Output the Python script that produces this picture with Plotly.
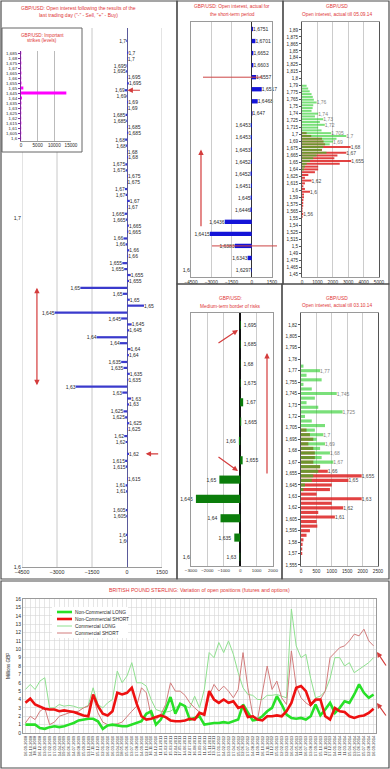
import plotly.graph_objects as go

W, H = 390, 769

# ---------------- DATA ----------------
# Left panel: open interest after the last trading day ("-" sell, "+" buy)
left_strikes = [1.700, 1.695, 1.690, 1.685, 1.680, 1.675, 1.670, 1.665, 1.660, 1.655, 1.650,
                1.645, 1.640, 1.635, 1.630, 1.625, 1.620, 1.615, 1.610, 1.605, 1.600]
left_labels = ["1,7", "1,695", "1,69", "1,685", "1,68", "1,675", "1,67", "1,665", "1,66", "1,655", "1,65",
               "1,645", "1,64", "1,635", "1,63", "1,625", "1,62", "1,615", "1,61", "1,605", "1,6"]
left_sell_a = [-30, -20, -90, -60, -80, -70, -90, -100, -150, -200, -2000,
               -3100, -1300, -250, -2200, -150, -120, -80, -60, -50, -40]
left_sell_b = [0, -40, -20, -30, -40, -50, -60, -50, -60, -120, -180,
               -250, -300, -150, -200, -80, -60, -50, -40, -30, -20]
left_buy_a = [60, 40, 50, 40, 30, 40, 120, 80, 100, 160, 120,
              200, 150, 120, 180, 100, 0, 0, 0, 0, 0]
left_buy_b = [30, 80, 30, 60, 50, 20, 40, 60, 50, 90, 730,
              100, 80, 60, 90, 40, 90, 40, 0, 0, 0]

# Inset: important strikes
imp_strikes = [1.685, 1.680, 1.675, 1.670, 1.665, 1.660, 1.655, 1.650, 1.645,
               1.640, 1.635, 1.630, 1.625, 1.620, 1.615, 1.610, 1.605, 1.600]
imp_values = [80, 60, 100, 60, 120, 80, 150, 700, 13600, 300, 120, 100, 80, 60, 100, 60, 80, 50]

# Middle top: short-term open interest
mt_labels = ["1,6751", "1,6701", "1,6652", "1,6603", "1,6557", "1,6517", "1,6468", "1,647",
             "1,6453", "1,6453", "1,6453", "1,6452", "1,6452", "1,6451", "1,645", "1,6446",
             "1,6436", "1,6415", "1,6383", "1,6343", "1,6297"]
mt_values = [100, 270, 120, 120, 320, 740, 440, 60, -60, -60, -70, -70, -90, -60, -80, -100,
             -2000, -3100, -1250, -300, -40]

# Top right: open interest till 05.09.14
tr_prices = [1.790, 1.785, 1.780, 1.775, 1.770, 1.765, 1.760, 1.755, 1.750, 1.745, 1.740, 1.735,
             1.730, 1.725, 1.720, 1.715, 1.710, 1.705, 1.700, 1.695, 1.690, 1.685, 1.680, 1.675,
             1.670, 1.665, 1.660, 1.655, 1.650, 1.645, 1.640, 1.635, 1.630, 1.625, 1.620, 1.615,
             1.610, 1.605, 1.600, 1.595, 1.590, 1.585, 1.580, 1.575, 1.570, 1.565, 1.560, 1.555]
tr_green = [300, 400, 500, 620, 700, 770, 950, 730, 690, 620, 1050, 840, 1380, 1160, 1480, 1050,
            1270, 1900, 2880, 2240, 2020, 1800, 1380, 1270, 1590, 950, 730, 520, 300, 190, 130,
            0, 0, 0, 0, 0, 0, 0, 0, 0, 0, 0, 0, 0, 0, 0, 0, 0]
tr_red = [0, 0, 0, 0, 0, 0, 0, 0, 0, 0, 0, 0, 0, 0, 0, 0, 0,
          300, 600, 1300, 1400, 1500, 3160, 1300, 2880, 2300, 2100, 3200, 2450, 1050, 1050, 840,
          410, 190, 620, 190, 90, 190, 520, 130, 130, 90, 80, 80, 40, 40, 80, 40]
tr_green_marks = [1.76, 1.74, 1.73, 1.72, 1.705, 1.70, 1.69]
tr_red_marks = [1.68, 1.67, 1.655, 1.62, 1.60, 1.56]
tr_tickvals = [1.89, 1.8775, 1.865, 1.8525, 1.84, 1.8275, 1.815, 1.8025, 1.79, 1.7775, 1.765, 1.7525,
               1.74, 1.7275, 1.715, 1.7025, 1.69, 1.6775, 1.665, 1.6525, 1.64, 1.6275, 1.615, 1.6025,
               1.59, 1.5775, 1.565, 1.5525, 1.54, 1.5275, 1.515, 1.5025, 1.49, 1.4775, 1.465, 1.4525]
tr_ticktext = ["1,89", "1,875", "1,865", "1,85", "1,84", "1,825", "1,815", "1,8", "1,79", "1,775",
               "1,765", "1,75", "1,74", "1,725", "1,715", "1,7", "1,69", "1,675", "1,665", "1,65",
               "1,64", "1,625", "1,615", "1,6", "1,59", "1,575", "1,565", "1,55", "1,54", "1,525",
               "1,515", "1,5", "1,49", "1,475", "1,465", "1,45"]

# Middle bottom: medium-term border of risks
mb_labels = ["1,695", "1,685", "1,68", "1,675", "1,67", "1,665", "1,66", "1,655", "1,65",
             "1,645", "1,64", "1,635", "1,63"]
mb_values = [40, 30, 20, 30, 180, 60, -80, 150, -1270, -2700, -1200, -360, -40]

# Bottom right: open interest till 03.10.14
br_prices = [1.775, 1.770, 1.765, 1.760, 1.755, 1.750, 1.745, 1.740, 1.735, 1.730, 1.725, 1.720,
             1.715, 1.710, 1.705, 1.700, 1.695, 1.690, 1.685, 1.680, 1.675, 1.670, 1.665, 1.660,
             1.655, 1.650, 1.645, 1.640, 1.635, 1.630, 1.625, 1.620, 1.615, 1.610, 1.605, 1.600,
             1.595, 1.590, 1.585, 1.580, 1.575, 1.570]
br_green = [80, 620, 180, 670, 80, 350, 1160, 450, 180, 560, 1350, 130, 350, 780, 450, 725, 510,
            780, 620, 940, 670, 1050, 620, 560, 400, 350, 130, 80,
            0, 0, 0, 0, 0, 0, 0, 0, 0, 0, 0, 0, 0, 0]
br_red = [0, 0, 0, 0, 0, 0, 0, 0, 0, 0, 0, 0, 0, 0,
          180, 290, 400, 240, 400, 450, 450, 400, 620, 870, 1970, 1540, 1000, 940, 510, 1970,
          1000, 1370, 560, 1100, 510, 530, 290, 180, 80, 50, 40, 40]
br_green_marks = [1.77, 1.745, 1.725, 1.70, 1.69, 1.68, 1.67]
br_red_marks = [1.66, 1.655, 1.65, 1.63, 1.62, 1.61]
br_tickvals = [1.82, 1.8075, 1.795, 1.7825, 1.77, 1.7575, 1.745, 1.7325, 1.72, 1.7075, 1.695,
               1.6825, 1.67, 1.6575, 1.645, 1.6325, 1.62, 1.6075, 1.595, 1.5825, 1.57, 1.5575]
br_ticktext = ["1,82", "1,805", "1,795", "1,78", "1,77", "1,755", "1,745", "1,73", "1,72", "1,705",
               "1,695", "1,68", "1,67", "1,655", "1,645", "1,63", "1,62", "1,605", "1,595", "1,58",
               "1,57", "1,555"]

# Bottom: British pound, open positions (millions GBP)
cot_dates = ["16.09.2008", "14.10.2008", "18.11.2008", "16.12.2008",
             "13.01.2009", "17.02.2009", "17.03.2009", "14.04.2009", "19.05.2009", "16.06.2009",
             "14.07.2009", "18.08.2009", "15.09.2009", "13.10.2009", "17.11.2009", "15.12.2009",
             "12.01.2010", "16.02.2010", "16.03.2010", "13.04.2010", "18.05.2010", "15.06.2010",
             "13.07.2010", "17.08.2010", "14.09.2010", "12.10.2010", "16.11.2010", "14.12.2010",
             "11.01.2011", "15.02.2011", "15.03.2011", "12.04.2011", "17.05.2011", "14.06.2011",
             "12.07.2011", "16.08.2011", "13.09.2011", "11.10.2011", "15.11.2011", "13.12.2011",
             "17.01.2012", "14.02.2012", "13.03.2012", "17.04.2012", "15.05.2012", "12.06.2012",
             "17.07.2012", "14.08.2012", "11.09.2012", "16.10.2012", "13.11.2012", "11.12.2012",
             "15.01.2013", "12.02.2013", "12.03.2013", "16.04.2013", "14.05.2013", "11.06.2013",
             "16.07.2013", "13.08.2013", "17.09.2013", "15.10.2013", "12.11.2013", "17.12.2013",
             "14.01.2014", "11.02.2014", "11.03.2014", "15.04.2014", "13.05.2014", "17.06.2014",
             "15.07.2014", "12.08.2014", "16.09.2014"]
nc_long = [1.0, 1.0, 1.0, 0.6, 0.5, 0.7, 0.8, 0.7, 0.8, 1.0, 1.2, 1.5, 1.6, 1.7,
           1.7, 1.4, 0.5, 0.9, 1.0, 0.9, 0.8, 0.8, 1.0, 1.2, 1.4, 2.3, 2.6, 1.0, 1.6, 2.8, 4.3,
           2.3, 3.5, 3.2, 1.6, 1.8, 2.0,
           1.0, 1.1, 1.2, 1.2, 1.3, 1.2, 1.4, 1.6, 3.4, 2.5, 1.5, 1.6, 2.0, 2.6, 3.0, 4.4, 3.4,
           2.2, 1.8, 1.7, 1.8, 1.6, 2.0, 3.4, 2.1, 2.8, 3.6, 2.4, 3.0, 3.8, 3.6, 4.6, 5.8, 4.8,
           4.2, 4.6]
nc_short = [3.6, 4.1, 3.4, 3.1, 2.9, 2.8, 2.8, 2.6, 2.7, 2.6, 2.5, 2.3, 2.1, 2.0, 4.6, 3.2, 2.3,
            2.1, 2.6, 4.8, 4.6, 4.8, 5.4, 3.5, 2.0, 1.6, 1.7, 1.9, 2.1, 1.9, 1.5, 1.4, 1.4, 1.5,
            1.7, 1.6, 2.4,
            2.2, 5.0, 4.0, 3.6, 4.0, 3.6, 3.8, 3.0, 3.2, 1.9, 2.0, 1.6, 1.5, 2.0, 2.0, 2.1, 2.0,
            2.6, 3.6, 5.4, 5.6, 5.0, 3.4, 4.0, 4.0, 2.0, 1.6, 3.0, 2.6, 2.5, 2.0, 1.8, 2.0, 2.1,
            2.4, 2.9]
c_long = [5.2, 5.8, 5.2, 6.2, 6.6, 3.0, 3.0, 3.4, 3.2, 3.3, 3.2, 3.0, 3.0, 3.3, 5.4, 3.4, 3.0,
          3.6, 4.0, 7.4, 6.0, 6.8, 8.4, 6.0, 6.0, 5.6, 4.0, 2.8, 2.6, 2.5, 2.6, 3.0, 3.4, 3.2,
          3.0, 4.4, 3.0,
          5.2, 9.6, 9.0, 10.8, 9.6, 11.0, 9.4, 7.2, 5.4, 4.6, 4.5, 4.0, 4.0, 4.5, 4.5, 4.6, 4.4,
          4.2, 14.8, 10.4, 9.0, 9.4, 6.5, 4.2, 4.4, 5.0, 6.5, 9.0, 9.0, 8.0, 8.4, 7.2, 7.6, 8.0,
          8.4, 9.0]
c_short = [1.2, 2.0, 1.6, 2.6, 3.0, 1.0, 1.3, 2.0, 2.2, 2.4, 2.5, 2.6, 3.0, 3.2, 4.4, 2.4, 1.3,
           1.0, 1.0, 1.1, 1.3, 2.0, 2.6, 3.2, 5.4, 4.8, 2.0, 1.6, 2.2, 3.4, 6.0, 5.0, 5.0, 4.5,
           3.6, 3.0, 2.5,
           2.0, 4.4, 5.8, 5.0, 5.6, 5.0, 4.2, 5.2, 9.6, 5.4, 2.2, 1.6, 4.6, 8.0, 5.2, 6.2, 4.2,
           3.4, 9.8, 5.6, 4.2, 3.6, 3.2, 3.8, 4.0, 5.0, 9.0, 9.6, 10.2, 10.4, 11.0, 11.8, 11.6,
           12.4, 11.0, 10.4]
series_names = ["Non-Commercial LONG", "Non-Commercial SHORT", "Commercial LONG", "Commercial SHORT"]

# ---------------- HELPERS ----------------
def px(x):
    return x / W


def py(y):
    return 1 - y / H


def fmt(p):
    return f"{p:g}".replace(".", ",")


def marked(prices, vals, marks):
    return [fmt(p) if (v and any(abs(p - m) < 1e-9 for m in marks)) else "" for p, v in zip(prices, vals)]


FONT = "Liberation Sans, Arial, sans-serif"
TXT = "#2a2a2a"
RED_T = "#e03535"
ARROW = "#d43c3c"
GRID = "#cccccc"

fig = go.Figure()

# ---- left main panel bars ----
for vals, centre in zip([left_sell_a, left_sell_b, left_buy_a, left_buy_b],
                        [0.0018, 0.0006, -0.0006, -0.0018]):
    fig.add_trace(go.Bar(
        x=vals, y=left_strikes, orientation="h", xaxis="x", yaxis="y",
        width=0.00045, offset=centre - 0.000225,
        marker=dict(color="#3a3acc", line=dict(width=0)),
        text=[lab if v != 0 else "" for lab, v in zip(left_labels, vals)],
        textposition="outside", constraintext="none", cliponaxis=False,
        textfont=dict(size=5, color=TXT, family=FONT), showlegend=False, hoverinfo="skip"))
fig.add_trace(go.Scatter(x=[None], y=[None], xaxis="x", yaxis="y2", showlegend=False, hoverinfo="skip"))

# ---- inset ----
fig.add_trace(go.Bar(x=imp_values, y=imp_strikes, orientation="h", xaxis="x2", yaxis="y3",
                     width=0.0028, marker=dict(color="#ff00ff", line=dict(width=0)),
                     showlegend=False, hoverinfo="skip"))

# ---- middle top ----
fig.add_trace(go.Bar(x=mt_values, y=list(range(len(mt_values))), orientation="h",
                     xaxis="x3", yaxis="y4", width=0.36,
                     marker=dict(color="#1414d8", line=dict(width=0)),
                     text=mt_labels, textposition="outside", constraintext="none", cliponaxis=False,
                     textfont=dict(size=5, color=TXT, family=FONT), showlegend=False, hoverinfo="skip"))
fig.add_trace(go.Scatter(x=[None], y=[None], xaxis="x3", yaxis="y5", showlegend=False, hoverinfo="skip"))

# ---- top right ----
fig.add_trace(go.Bar(x=tr_red, y=tr_prices, orientation="h", xaxis="x4", yaxis="y6", width=0.0036,
                     marker=dict(color="#dd2222", line=dict(width=0)), opacity=0.85,
                     text=marked(tr_prices, tr_red, tr_red_marks), textposition="outside",
                     constraintext="none", cliponaxis=False,
                     textfont=dict(size=5, color=TXT, family=FONT), showlegend=False, hoverinfo="skip"))
fig.add_trace(go.Bar(x=tr_green, y=tr_prices, orientation="h", xaxis="x4", yaxis="y6", width=0.0036,
                     marker=dict(color="#22cc22", line=dict(width=0)), opacity=0.6,
                     text=marked(tr_prices, tr_green, tr_green_marks), textposition="outside",
                     constraintext="none", cliponaxis=False,
                     textfont=dict(size=5, color=TXT, family=FONT), showlegend=False, hoverinfo="skip"))

# ---- middle bottom ----
fig.add_trace(go.Bar(x=mb_values, y=list(range(len(mb_values))), orientation="h",
                     xaxis="x5", yaxis="y7", width=0.42,
                     marker=dict(color="#0b7d0b", line=dict(width=0)),
                     text=mb_labels, textposition="outside", constraintext="none", cliponaxis=False,
                     textfont=dict(size=5, color=TXT, family=FONT), showlegend=False, hoverinfo="skip"))
fig.add_trace(go.Scatter(x=[None], y=[None], xaxis="x5", yaxis="y8", showlegend=False, hoverinfo="skip"))

# ---- bottom right ----
fig.add_trace(go.Bar(x=br_red, y=br_prices, orientation="h", xaxis="x6", yaxis="y9", width=0.0034,
                     marker=dict(color="#dd2222", line=dict(width=0)), opacity=0.85,
                     text=marked(br_prices, br_red, br_red_marks), textposition="outside",
                     constraintext="none", cliponaxis=False,
                     textfont=dict(size=5, color=TXT, family=FONT), showlegend=False, hoverinfo="skip"))
fig.add_trace(go.Bar(x=br_green, y=br_prices, orientation="h", xaxis="x6", yaxis="y9", width=0.0034,
                     marker=dict(color="#22cc22", line=dict(width=0)), opacity=0.6,
                     text=marked(br_prices, br_green, br_green_marks), textposition="outside",
                     constraintext="none", cliponaxis=False,
                     textfont=dict(size=5, color=TXT, family=FONT), showlegend=False, hoverinfo="skip"))

# ---- bottom time series ----
line_styles = {
    "Commercial LONG": ("#8fe08f", 1.0),
    "Commercial SHORT": ("#d27c7c", 1.0),
    "Non-Commercial LONG": ("#28e028", 2.6),
    "Non-Commercial SHORT": ("#ee1111", 2.6),
}
series_vals = {"Non-Commercial LONG": nc_long, "Non-Commercial SHORT": nc_short,
               "Commercial LONG": c_long, "Commercial SHORT": c_short}
for name in ["Commercial LONG", "Commercial SHORT", "Non-Commercial LONG", "Non-Commercial SHORT"]:
    col, w = line_styles[name]
    fig.add_trace(go.Scatter(x=cot_dates, y=series_vals[name], mode="lines", name=name,
                             xaxis="x7", yaxis="y10", line=dict(color=col, width=w),
                             showlegend=False, hoverinfo="skip"))

# ---------------- AXES ----------------
tf = dict(size=5.3, color=TXT, family=FONT)
tfs = dict(size=4.7, color=TXT, family=FONT)
lay = dict(
    xaxis=dict(domain=[px(22), px(162)], range=[-4500, 1500], tick0=0, dtick=1500, anchor="y",
               showgrid=False, zeroline=True, zerolinecolor="#5a5a9a", zerolinewidth=1,
               showline=True, linecolor="#9a9a9a", ticks="", tickangle=0, tickfont=tf),
    yaxis=dict(domain=[py(567), py(28)], range=[1.5953, 1.7044], anchor="x", visible=False),
    yaxis2=dict(overlaying="y", anchor="x", range=[1.6, 1.7545], tick0=1.6, dtick=0.1, side="left",
                showgrid=False, zeroline=False, showline=False, ticks="", tickfont=tf),
    xaxis2=dict(domain=[px(21), px(71)], range=[0, 15000], dtick=5000, tickformat="d", anchor="y3",
                showgrid=True, gridcolor="#bbbbbb", zeroline=False, showline=True, linecolor="#9a9a9a",
                ticks="", tickangle=0, tickfont=dict(size=4.6, color=TXT, family=FONT)),
    yaxis3=dict(domain=[py(140.5), py(50.5)], range=[1.5975, 1.6875], tick0=1.6, dtick=0.005,
                anchor="x2", showgrid=False, zeroline=False, showline=True, linecolor="#7a2a9a",
                linewidth=1.5, ticks="outside", ticklen=1.5, tickcolor="#7a2a9a",
                tickfont=dict(size=4.4, color=TXT, family=FONT)),
    xaxis3=dict(domain=[px(191), px(272)], range=[-4500, 1500], tick0=0, dtick=1500, anchor="y4",
                showgrid=True, gridcolor=GRID, zeroline=True, zerolinecolor="#333333",
                showline=True, mirror=True, linecolor="#9a9a9a", ticks="", tickangle=0, tickfont=tfs),
    yaxis4=dict(domain=[py(277), py(22)], range=[20.58, -0.58], anchor="x3", showticklabels=False,
                showgrid=False, zeroline=False, showline=True, mirror=True, linecolor="#9a9a9a", ticks=""),
    yaxis5=dict(overlaying="y4", anchor="x3", range=[1.5975, 1.6975], tick0=1.6, dtick=0.1,
                side="left", showgrid=False, zeroline=False, showline=False, ticks="", tickfont=tf),
    xaxis4=dict(domain=[px(302), px(379)], range=[0, 5000], dtick=1000, anchor="y6",
                showgrid=True, gridcolor=GRID, zeroline=False, showline=True, mirror=True,
                linecolor="#9a9a9a", ticks="", tickangle=0, tickfont=tfs),
    yaxis6=dict(domain=[py(277), py(22)], range=[1.4471, 1.9043], anchor="x4", tickmode="array",
                tickvals=tr_tickvals, ticktext=tr_ticktext, showgrid=False, zeroline=False,
                showline=True, mirror=True, linecolor="#555555", ticks="outside", ticklen=2,
                tickcolor="#555555", tickfont=dict(size=4.6, color=TXT, family=FONT)),
    xaxis5=dict(domain=[px(191), px(273)], range=[-3000, 2000], dtick=1000, anchor="y7",
                showgrid=True, gridcolor=GRID, zeroline=True, zerolinecolor="#111111", zerolinewidth=1.5,
                showline=True, mirror=True, linecolor="#9a9a9a", ticks="", tickangle=0,
                tickfont=dict(size=4.4, color=TXT, family=FONT)),
    yaxis7=dict(domain=[py(566), py(313)], range=[12.47, -0.62], anchor="x5", showticklabels=False,
                showgrid=False, zeroline=False, showline=True, mirror=True, linecolor="#9a9a9a", ticks=""),
    yaxis8=dict(overlaying="y7", anchor="x5", range=[1.5965, 1.6975], tick0=1.6, dtick=0.1,
                side="left", showgrid=False, zeroline=False, showline=False, ticks="", tickfont=tf),
    xaxis6=dict(domain=[px(301), px(378)], range=[0, 2500], dtick=500, anchor="y9",
                showgrid=True, gridcolor=GRID, zeroline=False, showline=True, mirror=True,
                linecolor="#9a9a9a", ticks="", tickangle=0, tickfont=tfs),
    yaxis9=dict(domain=[py(566), py(313)], range=[1.5564, 1.8331], anchor="x6", tickmode="array",
                tickvals=br_tickvals, ticktext=br_ticktext, showgrid=False, zeroline=False,
                showline=True, mirror=True, linecolor="#555555", ticks="outside", ticklen=2,
                tickcolor="#555555", tickfont=dict(size=4.6, color=TXT, family=FONT)),
    xaxis7=dict(domain=[px(23), px(376)], type="category", range=[-0.5, len(cot_dates) - 0.5],
                anchor="y10", tickmode="array", tickvals=cot_dates, ticktext=cot_dates, tickangle=-90,
                showgrid=True, gridcolor="#d6d6d6", gridwidth=0.6, zeroline=False, showline=True,
                mirror=True, linecolor="#9a9a9a", ticks="",
                tickfont=dict(size=4.1, color=TXT, family=FONT)),
    yaxis10=dict(domain=[py(733), py(599)], range=[0, 16], dtick=1, anchor="x7", showgrid=True,
                 gridcolor="#d6d6d6", gridwidth=0.6, zeroline=False, showline=True, mirror=True,
                 linecolor="#9a9a9a", ticks="", tickfont=dict(size=5, color=TXT, family=FONT)),
)

# ---------------- SHAPES ----------------
shapes = []
# left main gridlines (cut where the inset sits)
for gx, top in [(-4500, 152), (-3000, 152), (-1500, 28), (1500, 28)]:
    shapes.append(dict(type="line", xref="x", yref="paper", x0=gx, x1=gx, y0=py(567), y1=py(top),
                       line=dict(color="#c8c8c8", width=1), layer="below"))
# inset box
shapes.append(dict(type="rect", xref="paper", yref="paper", x0=px(2), x1=px(82), y0=py(152), y1=py(28),
                   fillcolor="white", line=dict(color="#666666", width=1), layer="below"))
# panel frames
for (x0, y0, x1, y1) in [(1, 1, 177, 579), (177, 1, 283, 284), (283, 1, 389, 284),
                         (177, 284, 282, 579), (282, 284, 389, 579), (1, 581, 389, 768)]:
    shapes.append(dict(type="rect", xref="paper", yref="paper", x0=px(x0), x1=px(x1), y0=py(y1), y1=py(y0),
                       line=dict(color="#4d4d4d", width=1.2), layer="above"))
# red level lines in middle-top panel
shapes.append(dict(type="line", xref="paper", yref="y4", x0=px(203), x1=px(262), y0=4, y1=4,
                   line=dict(color="#cc4444", width=1), layer="above"))
shapes.append(dict(type="line", xref="paper", yref="y4", x0=px(212), x1=px(277), y0=18, y1=18,
                   line=dict(color="#cc4444", width=1), layer="above"))
# manual legend for bottom chart
shapes.append(dict(type="rect", xref="paper", yref="paper", x0=px(52), x1=px(128), y0=py(638), y1=py(607),
                   fillcolor="white", line=dict(width=0), layer="above"))
legend_rows = [612, 619, 626, 633]
for name, yy in zip(series_names, legend_rows):
    col, w = line_styles[name]
    shapes.append(dict(type="line", xref="paper", yref="paper", x0=px(57), x1=px(72), y0=py(yy), y1=py(yy),
                       line=dict(color=col, width=w), layer="above"))

# ---------------- ANNOTATIONS ----------------
ann = []


def title(x, y, text, size=5):
    ann.append(dict(x=px(x), y=py(y), xref="paper", yref="paper", text=text, showarrow=False,
                    xanchor="center", yanchor="middle", font=dict(size=size, color=RED_T, family=FONT)))


title(78, 8, "GBP/USD: Open interest following the results of the")
title(78, 15, 'last trading day ("-" - Sell, "+" - Buy)')
title(42, 35, "GBP/USD: Important", 4.6)
title(42, 41, "strikes (levels)", 4.6)
title(232, 7, "GBP/USD: Open interest, actual for", 4.8)
title(232, 14, "the short-term period", 4.8)
title(337, 7, "GBP/USD", 4.8)
title(337, 14, "Open interest, actual till 05.09.14", 4.8)
title(230, 298, "GBP/USD:", 4.8)
title(230, 306, "Medium-term border of risks", 4.8)
title(337, 298, "GBP/USD", 4.8)
title(337, 305, "Open interest, actual till 03.10.14", 4.8)
title(200, 590, "BRITISH POUND STERLING: Variation of open positions (futures and options)", 5.2)

for name, yy in zip(series_names, legend_rows):
    ann.append(dict(x=px(73), y=py(yy), xref="paper", yref="paper", text=name, showarrow=False,
                    xanchor="left", yanchor="middle", font=dict(size=4.8, color=TXT, family=FONT)))
ann.append(dict(x=px(8), y=py(666), xref="paper", yref="paper", text="Millions GBP", showarrow=False,
                textangle=-90, xanchor="center", yanchor="middle", font=dict(size=4.6, color=TXT, family=FONT)))

arrow_style = dict(text="", showarrow=True, arrowcolor=ARROW, arrowwidth=1.2, arrowhead=2, arrowsize=0.9)
# left panel double arrow between 1.65 and 1.63
ann.append(dict(x=-3860, y=1.6518, xref="x", yref="y", ax=-3860, ay=1.6318, axref="x", ayref="y",
                arrowside="end+start", startarrowhead=2, startarrowsize=0.9, **arrow_style))
# small arrows near 1,69 and 1,62 labels
ann.append(dict(x=20, y=1.6918, xref="x", yref="y", ax=14, ay=0, **arrow_style))
ann.append(dict(x=800, y=1.6182, xref="x", yref="y", ax=14, ay=0, **arrow_style))
# middle-top vertical arrow
ann.append(dict(x=-3760, y=10, xref="x3", yref="y4", ax=-3760, ay=16.5, axref="x3", ayref="y4", **arrow_style))
# middle-bottom arrows
ann.append(dict(x=px(238), y=py(330), xref="paper", yref="paper", ax=-21, ay=14, **arrow_style))
ann.append(dict(x=px(267), y=py(353), xref="paper", yref="paper", ax=0, ay=122, **arrow_style))
ann.append(dict(x=px(238), y=py(471), xref="paper", yref="paper", ax=-21, ay=-15, **arrow_style))
# bottom chart arrows
ann.append(dict(x=px(377), y=py(652), xref="paper", yref="paper", ax=10, ay=15, **arrow_style))
ann.append(dict(x=px(377), y=py(703), xref="paper", yref="paper", ax=10, ay=14, **arrow_style))

fig.update_layout(
    template="none",
    width=W, height=H, margin=dict(l=0, r=0, t=0, b=0),
    paper_bgcolor="white", plot_bgcolor="rgba(0,0,0,0)",
    barmode="overlay", separators=", ", showlegend=False, hovermode=False,
    font=dict(family=FONT, size=5, color=TXT),
    shapes=shapes, annotations=ann,
    **lay,
)

fig.write_html("out.html",
               config={"displayModeBar": False, "staticPlot": True},
               post_script="document.body.style.margin='0';document.body.style.overflow='hidden';")
